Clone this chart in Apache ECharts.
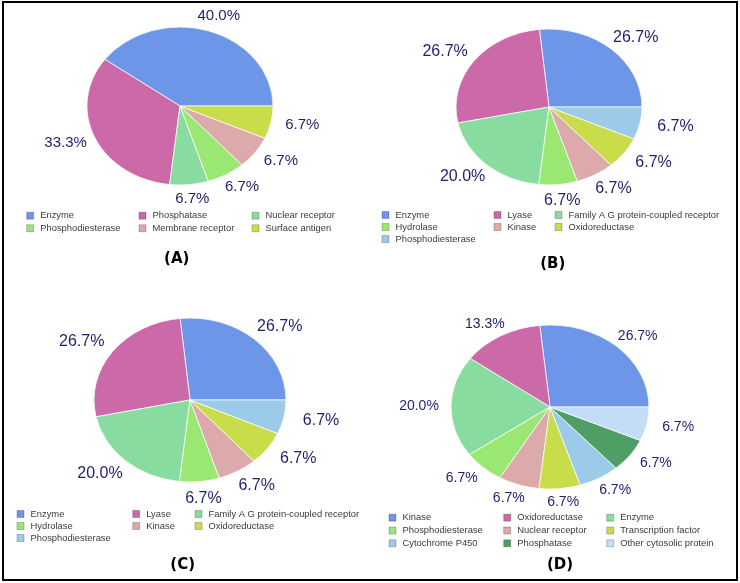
<!DOCTYPE html>
<html>
<head>
<meta charset="utf-8">
<script src="https://cdn.jsdelivr.net/npm/echarts@6.0.0/dist/echarts.min.js"></script>
<style>
  html, body { margin: 0; padding: 0; background: #fff; }
  #page { position: relative; width: 740px; height: 583px; overflow: hidden; background: #fff; }
  #frame { position: absolute; left: 2px; top: 1px; width: 736px; height: 580px; border: 2px solid #000; box-sizing: border-box; }
  .pie { position: absolute; }
  #overlay { position: absolute; left: 0; top: 0; width: 740px; height: 583px; }
</style>
</head>
<body>
<div id="page">
  <div id="frame"></div>
  <div id="overlay"></div>
</div>
<script>
// slice categories and percentages, in drawing order (counter-clockwise from 3 o'clock)
const catA = ['Enzyme', 'Phosphatase', 'Nuclear receptor', 'Phosphodiesterase', 'Membrane receptor', 'Surface antigen'];
const pctA = [40.0, 33.3, 6.7, 6.7, 6.7, 6.7];

const catB = ['Enzyme', 'Lyase', 'Family A G protein-coupled receptor', 'Hydrolase', 'Kinase', 'Oxidoreductase', 'Phosphodiesterase'];
const pctB = [26.7, 26.7, 20.0, 6.7, 6.7, 6.7, 6.7];

const catC = ['Enzyme', 'Lyase', 'Family A G protein-coupled receptor', 'Hydrolase', 'Kinase', 'Oxidoreductase', 'Phosphodiesterase'];
const pctC = [26.7, 26.7, 20.0, 6.7, 6.7, 6.7, 6.7];

const catD = ['Kinase', 'Oxidoreductase', 'Enzyme', 'Phosphodiesterase', 'Nuclear receptor', 'Transcription factor', 'Cytochrome P450', 'Phosphatase', 'Other cytosolic protein'];
const pctD = [26.7, 13.3, 20.0, 6.7, 6.7, 6.7, 6.7, 6.7, 6.7];

const panelTitles = ['(A)', '(B)', '(C)', '(D)'];

// slice colours, used in order by every panel
const palette = ['#6d95e8', '#cc6aa9', '#89dca0', '#9ae873', '#dcaaaa', '#c9dc4a', '#9ccbea', '#4f9e66', '#c4dcf6'];
const labelColor = '#1f1f6b';

// layout of each panel (pie ellipse, label ellipse, legend text columns, caption)
const panels = [
  { cats: catA, vals: pctA, cx: 180, cy: 105.5, rx: 93, ry: 79, lrx: 125, lry: 94, font: 15,
    legendX: [40.7, 153, 266], legendTop: 209.7, legendGap: 0.6, titleX: 176.7, titleY: 259.3 },
  { cats: catB, vals: pctB, cx: 549.3, cy: 107, rx: 93, ry: 78, lrx: 129, lry: 94, font: 16,
    legendX: [396, 508, 569], legendTop: 209, legendGap: 0, titleX: 552.7, titleY: 264.3 },
  { cats: catC, vals: pctC, cx: 190, cy: 400, rx: 96, ry: 82, lrx: 134, lry: 99, font: 16,
    legendX: [31, 146.7, 209], legendTop: 508, legendGap: 0, titleX: 182.7, titleY: 565 },
  { cats: catD, vals: pctD, cx: 550, cy: 407, rx: 99, ry: 82, lrx: 131, lry: 96, font: 14,
    legendX: [403, 517.7, 620.7], legendTop: 511.7, legendGap: 0.8, titleX: 560, titleY: 565 }
];

function midAngles(vals) {
  const total = vals.reduce((s, v) => s + v, 0);
  let acc = 0;
  return vals.map((v) => {
    const a = ((acc + v / 2) / total) * 2 * Math.PI;
    acc += v;
    return a;
  });
}

const page = document.getElementById('page');
const overlay = document.getElementById('overlay');

// coloured pies: circular pies squashed vertically into the ellipses of the original
panels.forEach((p) => {
  p.mid = midAngles(p.vals);
  const size = 2 * p.rx + 4;
  const div = document.createElement('div');
  div.className = 'pie';
  div.style.left = (p.cx - size / 2) + 'px';
  div.style.top = (p.cy - size / 2) + 'px';
  div.style.width = size + 'px';
  div.style.height = size + 'px';
  div.style.transform = 'scaleY(' + (p.ry / p.rx) + ')';
  div.style.transformOrigin = '50% 50%';
  page.insertBefore(div, overlay);

  const chart = echarts.init(div, null, { renderer: 'svg' });
  chart.setOption({
    animation: false,
    series: [{
      type: 'pie',
      silent: true,
      center: ['50%', '50%'],
      radius: p.rx,
      startAngle: 0,
      clockwise: false,
      label: { show: false },
      labelLine: { show: false },
      itemStyle: { borderColor: '#fff', borderWidth: 0.8 },
      data: p.cats.map((name, i) => ({ name, value: p.vals[i], itemStyle: { color: palette[i] } }))
    }]
  });
});

// labels, legends and captions on one transparent layer
const series = panels.map((p) => ({
  type: 'pie',
  silent: true,
  center: [p.cx, p.cy],
  radius: p.rx,
  startAngle: 0,
  clockwise: false,
  avoidLabelOverlap: false,
  itemStyle: { color: 'rgba(0,0,0,0)', borderWidth: 0 },
  label: {
    show: true,
    position: 'outside',
    color: labelColor,
    fontFamily: 'Liberation Sans',
    fontSize: p.font,
    formatter: (d) => d.value.toFixed(1) + '%'
  },
  labelLine: { show: false },
  labelLayout: (params) => {
    const a = p.mid[params.dataIndex];
    return {
      x: p.cx + p.lrx * Math.cos(a),
      y: p.cy - p.lry * Math.sin(a),
      align: 'center',
      verticalAlign: 'middle'
    };
  },
  data: p.cats.map((name, i) => ({ name, value: p.vals[i] }))
}));

const legends = [];
panels.forEach((p) => {
  for (let col = 0; col < 3; col++) {
    const items = [];
    p.cats.forEach((name, i) => {
      if (i % 3 === col) {
        items.push({ name, itemStyle: { color: palette[i], opacity: 1, borderColor: 'rgba(0,0,0,0.22)', borderWidth: 1 } });
      }
    });
    legends.push({
      orient: 'vertical',
      left: p.legendX[col] - 14.5,
      top: p.legendTop,
      padding: 0,
      itemGap: p.legendGap,
      itemWidth: 10,
      itemHeight: 7,
      icon: 'path://M0 0H10V10H0Z',
      selectedMode: false,
      textStyle: { fontFamily: 'Liberation Sans', fontSize: 9.4, color: '#3a3a3a', lineHeight: 12 },
      data: items
    });
  }
});

const captions = panels.map((p, i) => ({
  type: 'text',
  x: p.titleX,
  y: p.titleY,
  style: {
    text: panelTitles[i],
    fill: '#000',
    fontFamily: 'DejaVu Sans',
    fontWeight: 'bold',
    fontSize: 15,
    align: 'center',
    verticalAlign: 'middle'
  }
}));

const overlayChart = echarts.init(overlay, null, { renderer: 'canvas' });
overlayChart.setOption({
  animation: false,
  backgroundColor: 'transparent',
  legend: legends,
  graphic: captions,
  series
});
</script>
</body>
</html>
